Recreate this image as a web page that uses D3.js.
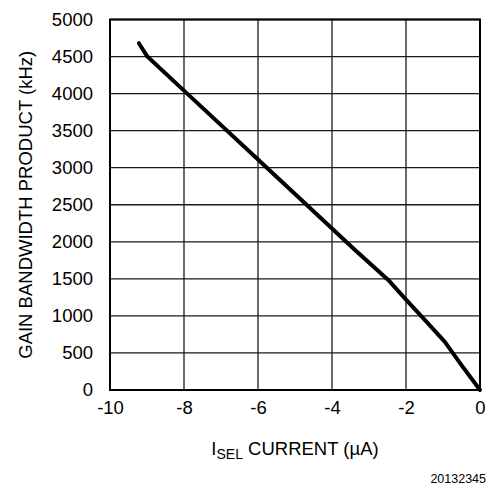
<!DOCTYPE html>
<html><head><meta charset="utf-8">
<script src="https://cdn.jsdelivr.net/npm/d3@7"></script>
<style>body{margin:0;background:#fff}svg{display:block}text{font-family:"Liberation Sans",Arial,sans-serif;fill:#000}</style>
</head><body>
<script>
const currentUA = [-9.22, -8.99, -8, -6, -4, -3.4, -2.45, -2, -1.5, -0.95, -0.5, 0];
const gbwKHz   = [4680, 4500, 4040, 3110, 2180, 1900, 1470, 1220, 950, 650, 335, 0];
const xTicks = [-10, -8, -6, -4, -2, 0];
const yTicks = [0, 500, 1000, 1500, 2000, 2500, 3000, 3500, 4000, 4500, 5000];

const W = 496, H = 485;
const m = {left: 110, right: 16, top: 19.5, bottom: 95};
const svg = d3.select("body").append("svg").attr("width", W).attr("height", H);
const x = d3.scaleLinear().domain([-10, 0]).range([m.left, W - m.right]);
const y = d3.scaleLinear().domain([0, 5000]).range([H - m.bottom, m.top]);

const g = svg.append("g");
// grid
g.selectAll(".vg").data(xTicks).join("line")
  .attr("x1", d => x(d)).attr("x2", d => x(d)).attr("y1", y(0)).attr("y2", y(5000))
  .attr("stroke", "#1a1a1a").attr("stroke-width", 1.3);
g.selectAll(".hg").data(yTicks).join("line")
  .attr("y1", d => y(d)).attr("y2", d => y(d)).attr("x1", x(-10)).attr("x2", x(0))
  .attr("stroke", "#1a1a1a").attr("stroke-width", 1.3);
// frame
g.append("rect").attr("x", x(-10)).attr("y", y(5000)).attr("width", x(0) - x(-10)).attr("height", y(0) - y(5000))
  .attr("fill", "none").attr("stroke", "#000").attr("stroke-width", 2);

// axes (labels only)
const yAxis = d3.axisLeft(y).tickValues(yTicks).tickSize(0).tickPadding(17).tickFormat(d3.format("d"));
const ya = svg.append("g").attr("transform", `translate(${x(-10)},0)`).call(yAxis);
ya.select(".domain").remove();
ya.selectAll("text").style("font-size", "18.5px").style("font-family", '"Liberation Sans",Arial,sans-serif').attr("fill", "#000");

const xAxis = d3.axisBottom(x).tickValues(xTicks).tickSize(0).tickPadding(11).tickFormat(d3.format("d"));
const xa = svg.append("g").attr("transform", `translate(0,${y(0)})`).call(xAxis);
xa.select(".domain").remove();
xa.selectAll("text").style("font-size", "18.5px").style("font-family", '"Liberation Sans",Arial,sans-serif').attr("fill", "#000");
xa.selectAll("text").text(d => d < 0 ? "-" + Math.abs(d) : d);

// curve
const data = currentUA.map((c, i) => [c, gbwKHz[i]]);
svg.append("path").datum(data)
  .attr("d", d3.line().x(d => x(d[0])).y(d => y(d[1])))
  .attr("fill", "none").attr("stroke", "#000").attr("stroke-width", 4)
  .attr("stroke-linecap", "round").attr("stroke-linejoin", "round");

// x title
const xt = svg.append("text").attr("x", (x(-10) + x(0)) / 2).attr("y", 455).attr("text-anchor", "middle").style("font-size", "18.5px");
xt.append("tspan").text("I");
xt.append("tspan").attr("dy", 4).style("font-size", "14px").text("SEL");
xt.append("tspan").attr("dy", -4).text(" CURRENT (\u00b5A)");

// y title
svg.append("text").attr("transform", `translate(32,${(y(0) + y(5000)) / 2}) rotate(-90)`)
  .attr("text-anchor", "middle").style("font-size", "18.5px").text("GAIN BANDWIDTH PRODUCT (kHz)");

// footer
svg.append("text").attr("x", 486).attr("y", 483).attr("text-anchor", "end").style("font-size", "12.5px").text("20132345");
</script>
</body></html>
